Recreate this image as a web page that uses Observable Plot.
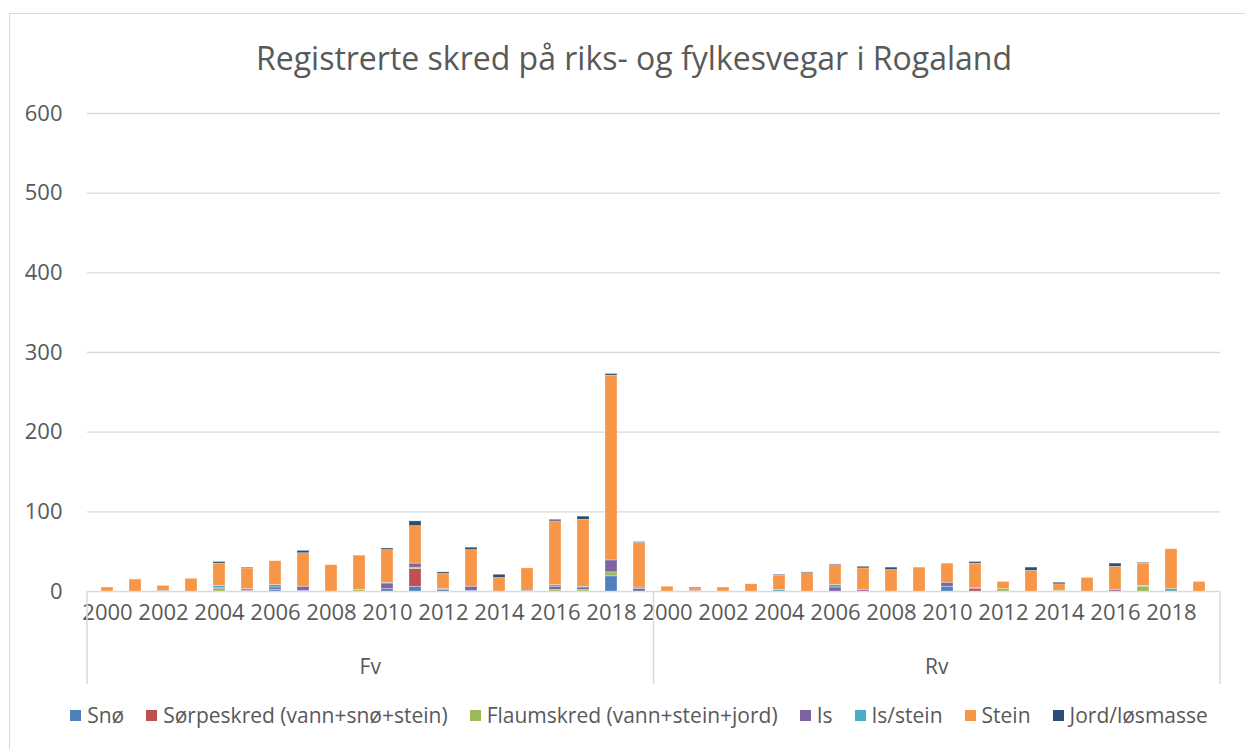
<!DOCTYPE html>
<html><head><meta charset="utf-8">
<script src="https://cdn.jsdelivr.net/npm/d3@7"></script>
<script src="https://cdn.jsdelivr.net/npm/@observablehq/plot@0.6"></script>
<style>
body{margin:0;background:#fff;font-family:"Open Sans",sans-serif;color:#595959;width:1245px;height:749px;overflow:hidden;position:relative}
#frame{position:absolute;left:9px;top:13px;width:1300px;height:800px;border:1.5px solid #d9d9d9;box-sizing:border-box}
#title{position:absolute;top:36px;left:0;width:1268px;text-align:center;font-size:32px;line-height:44px}
#chart{position:absolute;left:0;top:0}
#legend{position:absolute;top:700px;left:0;width:1278px;display:flex;justify-content:center;font-size:21px;line-height:30px}
.item{display:flex;align-items:center;margin:0 11px}
.sw{width:11px;height:11px;margin-right:6px}
</style></head>
<body>
<div id="frame"></div>
<div id="title">Registrerte skred på riks- og fylkesvegar i Rogaland</div>
<div id="chart"></div>
<div id="legend"></div>
<script>
// Categories
const groups = ["Fv", "Rv"];
const years = [2000,2001,2002,2003,2004,2005,2006,2007,2008,2009,2010,2011,2012,2013,2014,2015,2016,2017,2018,2019];
const seriesNames = ["Snø","Sørpeskred (vann+snø+stein)","Flaumskred (vann+stein+jord)","Is","Is/stein","Stein","Jord/løsmasse"];
const seriesColors = ["#4F81BD","#C0504D","#9BBB59","#8064A2","#4BACC6","#F79646","#2C4D75"];
const yTicks = [0,100,200,300,400,500,600];

// Values: first 20 = Fv 2000–2019, next 20 = Rv 2000–2019
const sno      = [0,0,0,0,0,0,2,1,0,0,3,6,2,1,0,1,0,0,19,0,  0,0,0,0,0,0,0,0,0,0,6,0,0,0,0,0,0,0,0,0];
const sorpe    = [0,0,0,0,0,1,0,0,0,0,0,22,1,0,0,0,0,0,0,0,  0,0,0,0,0,0,0,0,0,0,0,3,0,0,0,0,0,0,0,0];
const flaum    = [0,0,0,0,3,0,0,0,0,2,0,2,0,0,0,0,2,2,5,0,  0,0,0,0,0,0,0,0,0,0,0,0,3,0,1,0,0,6,0,0];
const is       = [0,0,1,0,1,0,3,5,0,0,7,5,0,5,0,0,4,3,15,3,  0,1,0,0,0,0,5,2,0,0,5,1,0,0,0,0,2,0,0,0];
const isStein  = [0,0,0,0,3,2,3,0,0,0,1,0,0,0,0,0,2,1,0,2,  0,0,0,0,2,0,3,0,0,0,0,0,0,0,0,0,0,1,3,0];
const stein    = [5,15,6,16,28,26,30,42,33,43,41,47,19,46,17,28,80,84,232,56,  6,3,5,9,18,23,25,27,27,30,24,31,9,26,8,17,29,28,50,12];
const jord     = [0,0,0,0,2,1,0,3,0,0,2,6,2,3,4,0,2,4,2,1,  0,1,0,0,1,1,1,2,3,0,0,2,0,4,2,0,4,1,0,0];
const seriesValues = [sno, sorpe, flaum, is, isStein, stein, jord];

const keys = [];
groups.forEach(g => years.forEach(y => keys.push(g + "|" + y)));
const table = [];
seriesNames.forEach((s, si) => keys.forEach((k, i) => table.push({key: k, series: s, value: seriesValues[si][i]})));

const chart = Plot.plot({
  width: 1245, height: 700,
  marginTop: 113, marginBottom: 109, marginLeft: 87, marginRight: 25,
  style: {fontFamily: "'Open Sans', sans-serif", color: "#595959", background: "transparent"},
  x: {type: "band", domain: keys, paddingInner: 0.57, paddingOuter: 0.285},
  y: {domain: [0, 600]},
  color: {domain: seriesNames, range: seriesColors},
  marks: [
    Plot.gridY(yTicks, {stroke: "#d9d9d9", strokeOpacity: 1, strokeWidth: 1.3}),
    Plot.axisY({ticks: yTicks, tickSize: 0, tickPadding: 25, fontSize: 22, fill: "#595959", label: null}),
    Plot.axisX({ticks: keys.filter((k, i) => i % 2 === 0), tickFormat: d => d.split("|")[1], tickSize: 0, tickPadding: 13, fontSize: 22, fill: "#595959", label: null}),
    Plot.barY(table, {x: "key", y: "value", fill: "series", stroke: "white", strokeWidth: 0.6, strokeOpacity: 0.5})
  ]
});
document.getElementById("chart").appendChild(chart);

// Group separators and labels drawn from the library's scales
const xs = chart.scale("x"), ys = chart.scale("y");
const [r0, r1] = xs.range;
const mid = (r0 + r1) / 2;
const y0 = ys.apply(0);
const svg = d3.select(chart);
svg.append("g").selectAll("line").data([r0, mid, r1]).join("line")
  .attr("x1", d => d).attr("x2", d => d).attr("y1", y0).attr("y2", y0 + 93)
  .attr("stroke", "#d9d9d9").attr("stroke-width", 1.5);
svg.append("g").selectAll("text").data(groups).join("text")
  .attr("x", (d, i) => i === 0 ? (r0 + mid) / 2 : (mid + r1) / 2)
  .attr("y", y0 + 83).attr("text-anchor", "middle")
  .attr("font-size", 21).attr("fill", "#595959").text(d => d);

// Legend
const legend = d3.select("#legend");
seriesNames.forEach((s, i) => {
  const it = legend.append("div").attr("class", "item");
  it.append("div").attr("class", "sw").style("background", seriesColors[i]);
  it.append("span").text(s);
});
</script>
</body></html>
